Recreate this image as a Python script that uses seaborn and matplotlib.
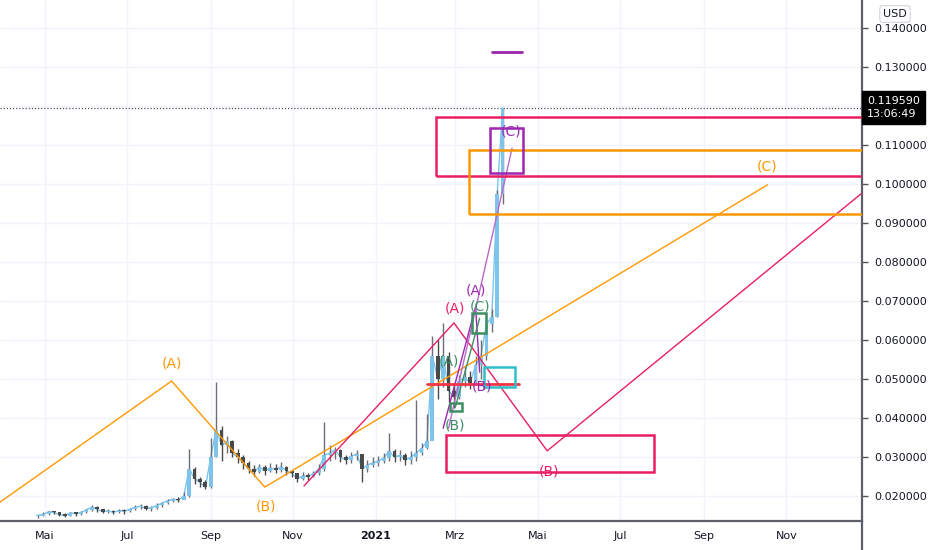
import matplotlib
matplotlib.use('Agg')
import matplotlib.pyplot as plt
import matplotlib.dates as mdates
from matplotlib.patches import Rectangle
from matplotlib.lines import Line2D
import numpy as np
import pandas as pd
import seaborn as sns

sns.set_theme(style='white')
plt.rcParams['font.family'] = ['DejaVu Sans']

# price candles, one every 4 days
start = '2020-04-26'
close = [0.0150, 0.0153, 0.0160, 0.0158, 0.0152, 0.0150, 0.0157, 0.0155, 0.0158, 0.0165,
         0.0172, 0.0166, 0.0160, 0.0162, 0.0158, 0.0163, 0.0161, 0.0166, 0.0171, 0.0174,
         0.0168, 0.0170, 0.0176, 0.0182, 0.0188, 0.0192, 0.0190, 0.0200, 0.0270, 0.0245,
         0.0235, 0.0222, 0.0300, 0.0370, 0.0330, 0.0340, 0.0310, 0.0300, 0.0285, 0.0270,
         0.0262, 0.0275, 0.0265, 0.0272, 0.0268, 0.0275, 0.0265, 0.0258, 0.0245, 0.0252,
         0.0250, 0.0258, 0.0270, 0.0305, 0.0310, 0.0318, 0.0300, 0.0292, 0.0302, 0.0308,
         0.0270, 0.0280, 0.0285, 0.0290, 0.0298, 0.0315, 0.0300, 0.0305, 0.0292, 0.0300,
         0.0310, 0.0322, 0.0340, 0.0560, 0.0500, 0.0560, 0.0470, 0.0455, 0.0495, 0.0505,
         0.0490, 0.0535, 0.0560, 0.0640, 0.0660, 0.0975, 0.1196]
high = [0.0155, 0.0158, 0.0163, 0.0162, 0.0160, 0.0156, 0.0160, 0.0160, 0.0162, 0.0168,
        0.0178, 0.0175, 0.0168, 0.0166, 0.0164, 0.0167, 0.0166, 0.0170, 0.0176, 0.0180,
        0.0176, 0.0174, 0.0181, 0.0186, 0.0193, 0.0196, 0.0198, 0.0210, 0.0320, 0.0275,
        0.0250, 0.0240, 0.0350, 0.0493, 0.0380, 0.0355, 0.0345, 0.0320, 0.0305, 0.0290,
        0.0280, 0.0282, 0.0280, 0.0285, 0.0282, 0.0288, 0.0278, 0.0268, 0.0258, 0.0262,
        0.0258, 0.0265, 0.0282, 0.0390, 0.0330, 0.0325, 0.0320, 0.0305, 0.0312, 0.0318,
        0.0300, 0.0292, 0.0300, 0.0302, 0.0310, 0.0362, 0.0320, 0.0318, 0.0310, 0.0315,
        0.0446, 0.0335, 0.0410, 0.0610, 0.0600, 0.0645, 0.0570, 0.0490, 0.0510, 0.0530,
        0.0520, 0.0560, 0.0600, 0.0670, 0.0680, 0.0985, 0.1196]
low = [0.0145, 0.0148, 0.0152, 0.0153, 0.0148, 0.0146, 0.0148, 0.0150, 0.0152, 0.0156,
       0.0163, 0.0160, 0.0156, 0.0156, 0.0153, 0.0156, 0.0155, 0.0160, 0.0165, 0.0167,
       0.0164, 0.0163, 0.0168, 0.0173, 0.0180, 0.0184, 0.0185, 0.0193, 0.0198, 0.0230,
       0.0222, 0.0217, 0.0220, 0.0300, 0.0290, 0.0310, 0.0300, 0.0285, 0.0270, 0.0258,
       0.0252, 0.0258, 0.0255, 0.0262, 0.0260, 0.0262, 0.0255, 0.0250, 0.0235, 0.0240,
       0.0242, 0.0248, 0.0255, 0.0265, 0.0290, 0.0295, 0.0288, 0.0282, 0.0285, 0.0292,
       0.0236, 0.0262, 0.0275, 0.0278, 0.0285, 0.0290, 0.0288, 0.0290, 0.0280, 0.0282,
       0.0290, 0.0305, 0.0320, 0.0380, 0.0450, 0.0480, 0.0440, 0.0425, 0.0450, 0.0480,
       0.0475, 0.0485, 0.0500, 0.0550, 0.0620, 0.0660, 0.0950]
last_price = 0.119590
last_time = '13:06:49'

# wave drawings: (date, price)
orange_wave = [('2020-03-28', 0.0182), ('2020-08-03', 0.0495), ('2020-10-11', 0.0223), ('2021-10-18', 0.0998)]
pink_wave = [('2020-11-09', 0.0226), ('2021-02-28', 0.0644), ('2021-05-08', 0.0316), ('2021-12-27', 0.0977)]
purple_wave = [('2021-02-20', 0.0374), ('2021-03-16', 0.0685), ('2021-03-19', 0.0518)]
purple_leg = [('2021-02-24', 0.0374), ('2021-04-12', 0.1092)]
green_leg = [('2021-03-01', 0.0428), ('2021-03-19', 0.0656)]
red_level = [('2021-02-08', 0.0487), ('2021-04-17', 0.0487)]
purple_level = [('2021-03-28', 0.1339), ('2021-04-19', 0.1339)]

# boxes: (start, end, bottom, top, colour)
boxes = [
    ('2021-02-15', '2022-03-01', 0.1021, 0.1172, '#e91e63'),
    ('2021-03-11', '2022-03-01', 0.0923, 0.1087, '#ff9800'),
    ('2021-03-27', '2021-04-20', 0.1028, 0.1144, '#9c27b0'),
    ('2021-02-22', '2021-07-26', 0.0262, 0.0357, '#e91e63'),
    ('2021-03-22', '2021-04-14', 0.0480, 0.0531, '#2fbfc9'),
    ('2021-02-25', '2021-03-06', 0.0418, 0.0439, '#3d8f63'),
    ('2021-03-13', '2021-03-24', 0.0618, 0.0669, '#3d8f63'),
]

# labels: (text, date, price, colour)
labels = [
    ('(A)', '2020-08-03', 0.0539, '#ff9800'),
    ('(B)', '2020-10-12', 0.0172, '#ff9800'),
    ('(C)', '2021-10-18', 0.1044, '#ff9800'),
    ('(A)', '2021-03-01', 0.0682, '#e91e63'),
    ('(B)', '2021-05-09', 0.0264, '#e91e63'),
    ('(A)', '2021-02-24', 0.0544, '#3d8f63'),
    ('(B)', '2021-03-01', 0.0380, '#3d8f63'),
    ('(C)', '2021-03-19', 0.0687, '#3d8f63'),
    ('(A)', '2021-03-16', 0.0726, '#9c27b0'),
    ('(B)', '2021-03-21', 0.0482, '#9c27b0'),
    ('(C)', '2021-04-11', 0.1136, '#9c27b0'),
]

tick_dates = ['2020-05-01', '2020-07-01', '2020-09-01', '2020-11-01', '2021-01-01',
              '2021-03-01', '2021-05-01', '2021-07-01', '2021-09-01', '2021-11-01']
tick_names = ['Mai', 'Jul', 'Sep', 'Nov', '2021', 'Mrz', 'Mai', 'Jul', 'Sep', 'Nov']
price_ticks = [0.02, 0.03, 0.04, 0.05, 0.06, 0.07, 0.08, 0.09, 0.10, 0.11, 0.12, 0.13, 0.14]

fig = plt.figure(figsize=(9.32, 5.5), dpi=100)
ax = fig.add_axes([0, 29 / 550, 862 / 932, 521 / 550])

df = pd.DataFrame({'date': pd.date_range(start, periods=len(close), freq='4D'),
                   'close': close, 'high': high, 'low': low})
df['open'] = df.close.shift(1).fillna(0.0148)
up = df.close >= df.open
cols = np.where(up, '#7ec4ea', '#4a4a4a')

sns.lineplot(data=df, x='date', y='close', color='#7ec4ea', lw=1, ax=ax, zorder=2)
ax.vlines(df.date, df.low, df.high, colors=np.where(up, '#6a6f78', '#4a4a4a'), lw=1, zorder=3)
ax.bar(df.date, (df.close - df.open).abs().clip(lower=0.0003),
       bottom=df[['open', 'close']].min(axis=1), width=2.8, color=cols, lw=0, zorder=3)


def wave(points, color, lw=1):
    w = pd.DataFrame(points, columns=['date', 'price'])
    w['date'] = pd.to_datetime(w.date)
    sns.lineplot(data=w, x='date', y='price', sort=False, estimator=None,
                 color=color, lw=lw, ax=ax, zorder=4)


wave(orange_wave, '#ff9800')
wave(pink_wave, '#e91e63')
wave(purple_wave, '#9c27b0')
wave(purple_leg, '#ba68c8')
wave(green_leg, '#3d8f63')
wave(red_level, '#f23645', lw=2)
wave(purple_level, '#9c27b0', lw=2)

for s, e, b, t, c in boxes:
    x0 = mdates.date2num(pd.Timestamp(s))
    x1 = mdates.date2num(pd.Timestamp(e))
    ax.add_patch(Rectangle((x0, b), x1 - x0, t - b, fill=False, ec=c, lw=1.8, zorder=5))

for txt, d, p, c in labels:
    ax.text(pd.Timestamp(d), p, txt, color=c, fontsize=10, ha='center', va='center', zorder=6)

ax.axhline(last_price, color='#555555', ls=(0, (1, 1.5)), lw=0.9, zorder=2)

ax.set_xlim(mdates.date2num(pd.Timestamp('2020-03-29')), mdates.date2num(pd.Timestamp('2021-12-27')))
ax.set_ylim(0.01361, 0.1472)
ax.set_xticks([pd.Timestamp(t) for t in tick_dates])
ax.set_xticklabels(tick_names)
for lab in ax.get_xticklabels():
    if lab.get_text() == '2021':
        lab.set_fontweight('bold')
ax.set_yticks(price_ticks)
# the 0.12 label sits under the last-price box
ax.set_yticklabels(['' if abs(v - 0.12) < 1e-9 else '%.6f' % v for v in price_ticks])
ax.yaxis.tick_right()
ax.tick_params(axis='both', labelsize=8, colors='#131722', length=4, width=1,
               direction='out', color='#555555', pad=3)
ax.tick_params(axis='y', pad=5)
ax.grid(True, color='#f0f3fa', lw=1)
ax.set_xlabel('')
ax.set_ylabel('')
for side in ['top', 'left']:
    ax.spines[side].set_visible(False)
for side in ['right', 'bottom']:
    ax.spines[side].set_color('#5d606b')
    ax.spines[side].set_linewidth(1.6)
# price scale border runs down through the date row
fig.add_artist(Line2D([862 / 932, 862 / 932], [0, 29 / 550], color='#5d606b', lw=1.6))

ax.text(1.006, last_price, '%.6f\n%s' % (last_price, last_time),
        transform=ax.get_yaxis_transform(), ha='left', va='center', fontsize=8,
        color='white', linespacing=1.4, zorder=10, clip_on=False,
        bbox=dict(boxstyle='square,pad=0.45', fc='black', ec='black'))
fig.text(895 / 932, 1 - 14 / 550, 'USD', ha='center', va='center', fontsize=8, color='#131722',
         bbox=dict(boxstyle='round,pad=0.3', fc='white', ec='#d1d4dc', lw=0.8))

fig.savefig('out.png', dpi=100)
